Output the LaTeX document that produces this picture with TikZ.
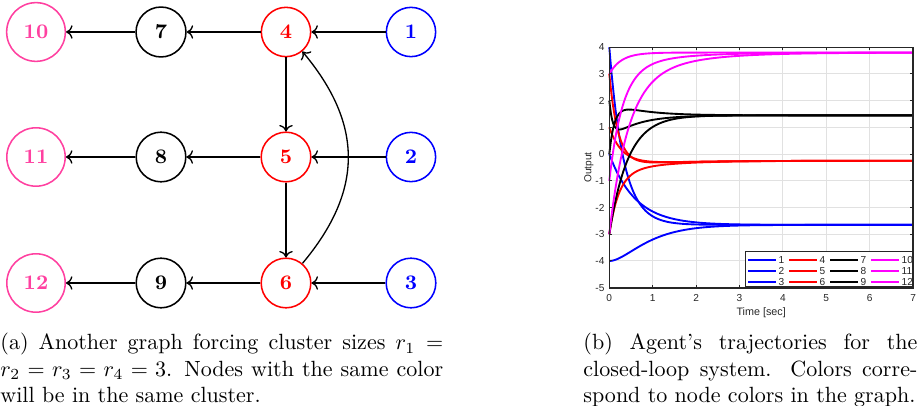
\documentclass[tikz,border=0pt]{standalone}
\usepackage{fontspec}
\newfontfamily\plotfont{Liberation Sans}
\usetikzlibrary{positioning,arrows.meta}
\definecolor{pinknode}{RGB}{255,64,160}
\definecolor{axgray}{RGB}{38,38,38}
\definecolor{gridgray}{RGB}{225,225,225}
\definecolor{magc}{RGB}{255,0,255}

\begin{document}
\begin{tikzpicture}[x=0.454pt, y=-0.454pt,
  vtx/.style={circle, draw, line width=0.7pt, font=\fontsize{9.4}{11}\selectfont\bfseries,
              inner sep=5pt, minimum size=18.2pt},
  arr/.style={->, line width=0.6pt, black},
  cv/.style={line width=0.85pt, smooth},
  tk/.style={font=\plotfont\fontsize{4.6}{5}\selectfont, text=axgray, inner sep=0.8pt},
  captxt/.style={anchor=base west, inner sep=0pt, align=justify, font=\normalsize}]
\useasboundingbox (0,0) rectangle (917,406);

% graph
\node[vtx, blue] (n1) at (411,32) {1};
\node[vtx, blue] (n2) at (411,157) {2};
\node[vtx, blue] (n3) at (411,283) {3};
\node[vtx, red] (n4) at (286,32) {4};
\node[vtx, red] (n5) at (286,157) {5};
\node[vtx, red] (n6) at (286,283) {6};
\node[vtx, black] (n7) at (161,32) {7};
\node[vtx, black] (n8) at (161,157) {8};
\node[vtx, black] (n9) at (161,283) {9};
\node[vtx, pinknode] (n10) at (36,32) {10};
\node[vtx, pinknode] (n11) at (36,157) {11};
\node[vtx, pinknode] (n12) at (36,283) {12};
\draw[arr] (n1) -- (n4); \draw[arr] (n4) -- (n7); \draw[arr] (n7) -- (n10);
\draw[arr] (n2) -- (n5); \draw[arr] (n5) -- (n8); \draw[arr] (n8) -- (n11);
\draw[arr] (n3) -- (n6); \draw[arr] (n6) -- (n9); \draw[arr] (n9) -- (n12);
\draw[arr] (n4) -- (n5); \draw[arr] (n5) -- (n6);
\draw[arr] (n6) to[out=50, in=-50, looseness=1.15] (n4);

% trajectories
\begin{scope}[shift={(609.3,154.1)}, x={(43.4,0)}, y={(0,-26.72)}]
  \foreach \t in {1,...,6} \draw[gridgray, line width=0.45pt] (\t,-5) -- (\t,4);
  \foreach \v in {-4,...,3} \draw[gridgray, line width=0.45pt] (0,\v) -- (7,\v);
  % blue
  \draw[blue, cv] plot[domain=0:7, samples=160] (\x, {-2.65+6.65*exp(-\x/0.33)});
  \draw[blue, cv] plot[domain=0:7, samples=160] (\x, {-2.65+2.65*exp(-\x/0.6)});
  \draw[blue, cv] plot[domain=0:7, samples=160] (\x, {-2.65-1.35*(1+\x/0.5)*exp(-\x/0.5)});
  % red
  \draw[red, cv] plot[domain=0:7, samples=160] (\x, {-0.25+3.45*exp(-\x/0.2)-0.2*exp(-\x/1.2)});
  \draw[red, cv] plot[domain=0:7, samples=160] (\x, {-0.25+1.45*exp(-\x/0.3)-0.2*exp(-\x/1.2)});
  \draw[red, cv] plot[domain=0:7, samples=160] (\x, {-0.25-2.25*exp(-\x/0.22)-0.5*exp(-\x/1.0)});
  % black
  \draw[black, cv] plot[domain=0:7, samples=160] (\x, {1.45+1.45*exp(-\x/0.08)-0.9*exp(-\x/0.6)});
  \draw[black, cv] plot[domain=0:7, samples=160] (\x, {1.45-1.95*exp(-\x/0.12)+0.5*exp(-\x/0.7)});
  \draw[black, cv] plot[domain=0:7, samples=160] (\x, {1.45-4.45*exp(-\x/0.43)});
  % magenta
  \draw[magc, cv] plot[domain=0:7, samples=160] (\x, {3.8-0.8*exp(-\x/0.28)});
  \draw[magc, cv] plot[domain=0:7, samples=160] (\x, {3.8-4.1*exp(-\x/0.3)-0.7*exp(-\x/1.1)});
  \draw[magc, cv] plot[domain=0:7, samples=160] (\x, {3.8-5.5*exp(-\x/0.42)-1.3*exp(-\x/1.25)});
  % axes
  \foreach \t in {0,...,7} {
    \draw[axgray, line width=0.45pt] (\t,-5) -- ++(0,0.11);
    \draw[axgray, line width=0.45pt] (\t,4) -- ++(0,-0.11);
    \node[tk] (xt\t) at (\t,-5.4) {\t};
  }
  \foreach \v in {-5,...,4} {
    \draw[axgray, line width=0.45pt] (0,\v) -- ++(0.07,0);
    \draw[axgray, line width=0.45pt] (7,\v) -- ++(-0.07,0);
    \node[tk, anchor=east] (yt\v) at (-0.06,\v) {\v};
  }
  \node[tk, rotate=90] (ylab) at (-0.47,-0.5) {Output};
  \node[tk, font=\plotfont\fontsize{4.9}{5}\selectfont] (xlab) at (3.5,-5.95) {Time [sec]};
\end{scope}

% legend
\draw[axgray, fill=white, line width=0.45pt] (745.7,252) rectangle (912.5,286.7);
\foreach \lab/\col/\cx/\ry in {1/blue/748/260, 2/blue/748/271, 3/blue/748/282,
    4/red/789/260, 5/red/789/271, 6/red/789/282,
    7/black/830/260, 8/black/830/271, 9/black/830/282,
    10/magc/871/260, 11/magc/871/271, 12/magc/871/282} {
  \draw[\col, line width=0.85pt] (\cx,\ry) -- ++(28,0);
  \node[tk, anchor=west] (lg\lab) at (\cx+28.5,\ry) {\lab};
}
\draw[axgray, line width=0.5pt] (609.3,47.5) rectangle (913,288);

% captions
\node[captxt, text width=201pt] (capa) at (0,350)
  {(a) Another graph forcing cluster sizes $r_1 = r_2 = r_3 = r_4 = 3$. Nodes with the same color will be in the same cluster.};
\node[captxt, text width=151.6pt] (capb) at (583,350)
  {(b) Agent's trajectories for the closed-loop system. Colors correspond to node colors in the graph.};
\end{tikzpicture}
\end{document}
